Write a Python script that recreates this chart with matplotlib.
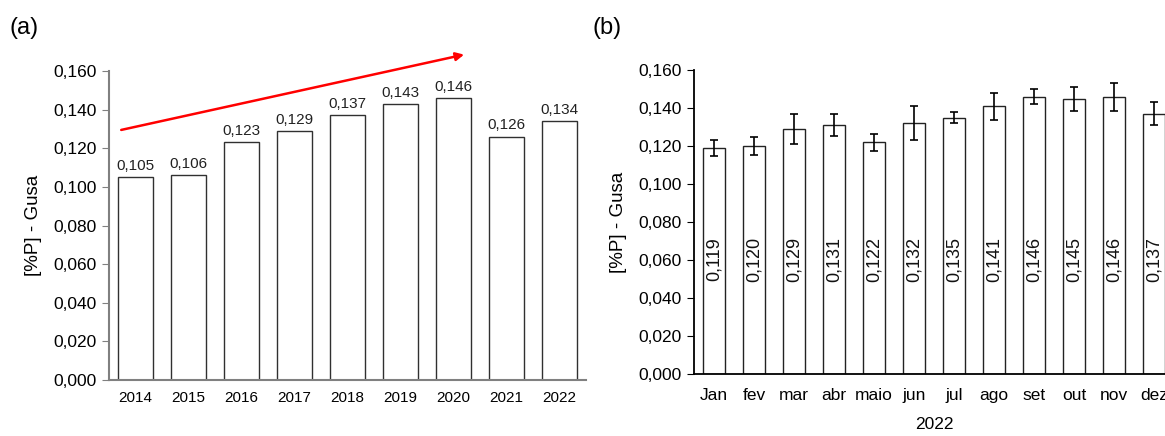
import numpy as np
import matplotlib
matplotlib.use("Agg")
import matplotlib.pyplot as plt

plt.rcParams['font.family'] = ['Liberation Sans', 'DejaVu Sans']

# (a) yearly averages
years = ['2014', '2015', '2016', '2017', '2018', '2019', '2020', '2021', '2022']
p_year = [0.105, 0.106, 0.123, 0.129, 0.137, 0.143, 0.146, 0.126, 0.134]

# (b) monthly averages 2022
months = ['Jan', 'fev', 'mar', 'abr', 'maio', 'jun', 'jul', 'ago', 'set', 'out', 'nov', 'dez']
p_month = [0.119, 0.120, 0.129, 0.131, 0.122, 0.132, 0.135, 0.141, 0.146, 0.145, 0.146, 0.137]
p_err = [0.0043, 0.0046, 0.0077, 0.0058, 0.0046, 0.0089, 0.0029, 0.0072, 0.0039, 0.0063, 0.0073, 0.0060]

def fmt(v):
    return f"{v:.3f}".replace('.', ',')

yt = np.arange(0, 0.161, 0.02)

fig = plt.figure(figsize=(11.65, 4.36), dpi=100)

# ---- panel (a)
ax1 = fig.add_axes([0.0936, 0.1284, 0.4094, 0.7087])
x1 = np.arange(len(years))
ax1.bar(x1, p_year, width=0.67, color='white', edgecolor='#303030', linewidth=1.0)
for xi, v in zip(x1, p_year):
    ax1.text(xi, v + 0.0022, fmt(v), ha='center', va='bottom', fontsize=11, color='#222222')
ax1.set_xlim(-0.5, len(years) - 0.5)
ax1.set_ylim(0, 0.16)
ax1.set_yticks(yt)
ax1.set_yticklabels([fmt(t) for t in yt], fontsize=12.5)
ax1.set_xticks(x1)
ax1.set_xticklabels(years, fontsize=11)
ax1.tick_params(axis='x', length=0, pad=8)
ax1.tick_params(axis='y', length=5, color='#808080', pad=4)
for s in ['top', 'right']:
    ax1.spines[s].set_visible(False)
for s in ['left', 'bottom']:
    ax1.spines[s].set_color('#808080')
    ax1.spines[s].set_linewidth(1.5)
ax1.set_ylabel('[%P] - Gusa', fontsize=13.5, labelpad=8)
ax1.annotate('', xy=(6.2, 0.1685), xytext=(-0.27, 0.1295),
             arrowprops=dict(arrowstyle='-|>', color='#ff0000', lw=1.8, mutation_scale=12,
                             shrinkA=0, shrinkB=0),
             annotation_clip=False)
fig.text(0.008, 0.936, '(a)', fontsize=17, ha='left', va='center')

# ---- panel (b)
ax2 = fig.add_axes([0.5957, 0.1422, 0.412, 0.697])
x2 = np.arange(len(months))
ax2.bar(x2, p_month, width=0.56, color='white', edgecolor='#222222', linewidth=1.0,
        yerr=p_err, error_kw=dict(ecolor='black', elinewidth=1.2, capsize=3, capthick=1.2))
for xi, v in zip(x2, p_month):
    ax2.text(xi, 0.0605, fmt(v), ha='center', va='center', rotation=90, fontsize=13, color='#111111')
ax2.set_xlim(-0.5, len(months) - 0.5)
ax2.set_ylim(0, 0.16)
ax2.set_yticks(yt)
ax2.set_yticklabels([fmt(t) for t in yt], fontsize=12.5)
ax2.set_xticks(x2)
ax2.set_xticklabels(months, fontsize=12.5)
ax2.tick_params(axis='x', length=0, pad=10)
ax2.tick_params(axis='y', length=5, pad=4)
for s in ['top', 'right']:
    ax2.spines[s].set_visible(False)
for s in ['left', 'bottom']:
    ax2.spines[s].set_linewidth(1.3)
ax2.set_ylabel('[%P] - Gusa', fontsize=13.5, labelpad=8)
ax2.set_xlabel('2022', fontsize=12.5, labelpad=10)
fig.text(0.509, 0.936, '(b)', fontsize=17, ha='left', va='center')

fig.savefig('out.png', dpi=100)
